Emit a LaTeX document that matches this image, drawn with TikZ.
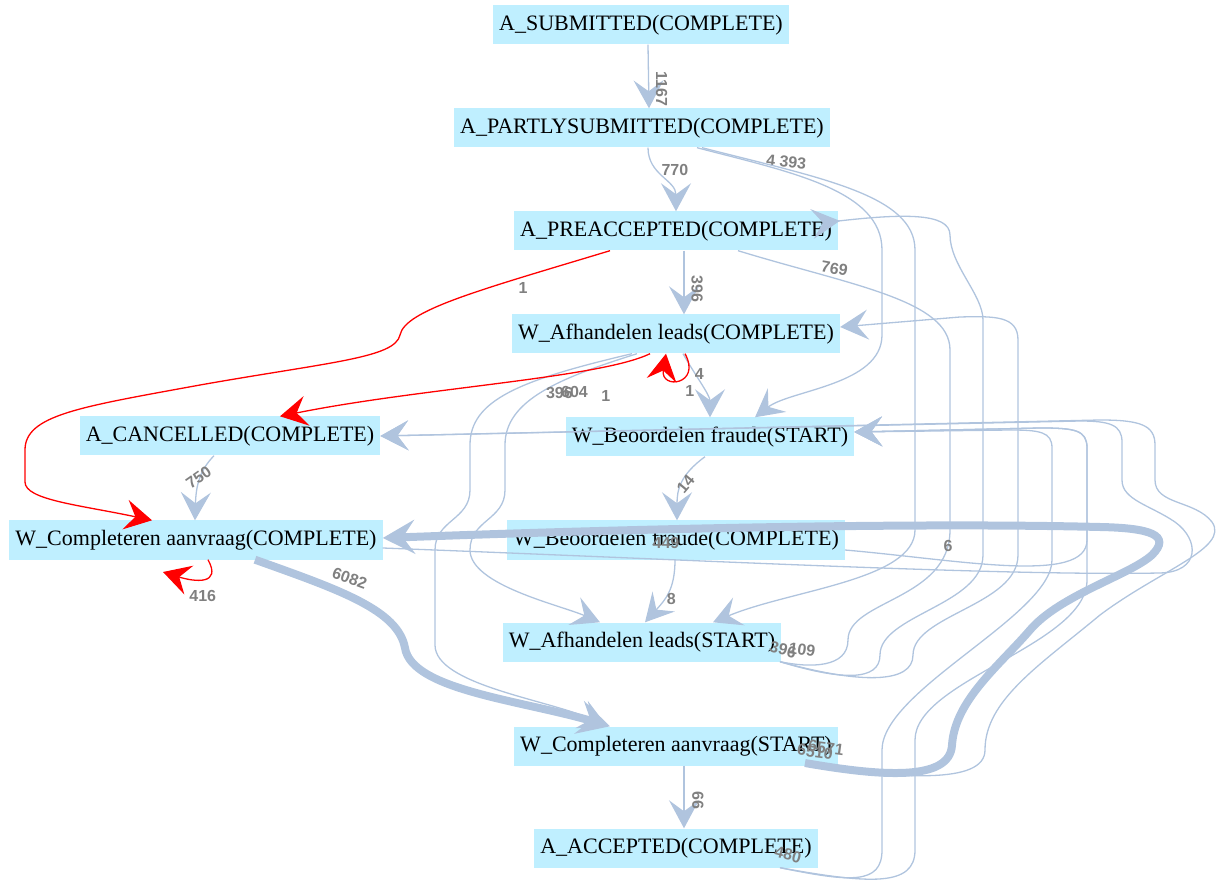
\documentclass[tikz,border=0pt]{standalone}
\usepackage{fontspec}
\setmainfont{Liberation Serif}
\newfontfamily\countfont{Liberation Sans}
\usetikzlibrary{arrows.meta}
\definecolor{ActFill}{HTML}{BFEFFF}
\definecolor{FlowLine}{HTML}{B0C4DE}
\definecolor{CountGray}{HTML}{808080}
\tikzset{
  act/.style={fill=ActFill,inner xsep=6pt,minimum height=39pt,font=\fontsize{22}{26}\selectfont},
  flow/.style={draw=FlowLine,line width=1.3pt,-{Stealth[length=28pt,width=30pt,inset=11pt]}},
  plain/.style={draw=FlowLine,line width=1.3pt},
  back/.style={draw=FlowLine,line width=1.3pt,-{Stealth[length=28pt,width=30pt,inset=11pt,reversed]}},
  heavy/.style={draw=FlowLine,line width=8pt,-{Stealth[length=32pt,width=34pt,inset=12pt]}},
  rework/.style={draw=red,line width=1.3pt,-{Stealth[length=27pt,width=30pt,inset=10pt]}},
  lbl/.style={font=\countfont\bfseries\fontsize{16}{16}\selectfont,text=CountGray,inner sep=1pt}
}

\begin{document}
\begin{tikzpicture}[x=1pt,y=-1pt]
  \useasboundingbox (0,0) rectangle (1219,882);
  % activities
  \node[act] (sub) at (641,25) {A\_SUBMITTED(COMPLETE)};
  \node[act] (partly) at (642,128) {A\_PARTLYSUBMITTED(COMPLETE)};
  \node[act] (preacc) at (676,231) {A\_PREACCEPTED(COMPLETE)};
  \node[act] (alc) at (676,334) {W\_Afhandelen leads(COMPLETE)};
  \node[act] (bfs) at (710,437) {W\_Beoordelen fraude(START)};
  \node[act] (canc) at (230,436) {A\_CANCELLED(COMPLETE)};
  \node[act] (cac) at (196,540) {W\_Completeren aanvraag(COMPLETE)};
  \node[act] (bfc) at (676,540) {W\_Beoordelen fraude(COMPLETE)};
  \node[act] (als) at (642,642) {W\_Afhandelen leads(START)};
  \node[act] (cas) at (676,746) {W\_Completeren aanvraag(START)};
  \node[act] (acc) at (676,848) {A\_ACCEPTED(COMPLETE)};
  \coordinate (cacloop) at (163,572);

  % main flow
  \draw[flow] ([xshift=7pt]sub.south) -- node[lbl,pos=.7,xshift=13pt,rotate=-90]{1167} ([xshift=7pt]partly.north);
  \draw[flow] ([xshift=6pt]partly.south) .. controls (648,175) and (676,180) .. node[lbl,pos=.35,right=4pt]{770} (preacc.north);
  \draw[flow] ([xshift=55pt]partly.south) .. controls (790,172) and (882,190) .. node[lbl,pos=.33,above=2pt,rotate=-6]{4 393} (882,250) -- (882,335) .. controls (882,385) and (790,390) .. ([xshift=45pt]bfs.north);
  \draw[flow] ([xshift=60pt]partly.south) .. controls (820,178) and (915,195) .. (915,250) -- (915,530) .. controls (915,580) and (790,590) .. ([xshift=71pt]als.north);
  \draw[flow] ([xshift=8pt]preacc.south) -- node[lbl,pos=.6,xshift=13pt,rotate=-90]{396} ([xshift=8pt]alc.north);
  \draw[plain] ([xshift=62pt]preacc.south) .. controls (850,285) and (950,300) .. node[lbl,pos=.3,above=2pt,rotate=-10]{769} (950,350) -- (950,530) .. controls (950,600) and (848,600) .. node[lbl,pos=.08]{6} (848,640) .. controls (848,668) and (810,668) .. ([xshift=138pt]als.south);
  \draw[flow] ([xshift=7pt]alc.south) .. controls (695,375) and (710,395) .. node[lbl,pos=.6,left=8pt]{1} (bfs.north);
  \draw[flow] ([xshift=-5pt]bfs.south) .. controls (680,475) and (677,490) .. node[lbl,pos=.5,xshift=4pt,rotate=50]{14} ([xshift=1pt]bfc.north);
  \draw[flow] ([xshift=-1pt]bfc.south) .. controls (675,590) and (665,600) .. node[lbl,pos=.6,xshift=7pt]{8} ([xshift=3pt]als.north);
  \draw[flow] ([xshift=8pt]cas.south) -- node[lbl,pos=.55,xshift=14pt,rotate=-90]{66} ([xshift=8pt]acc.north);
  \draw[flow] ([xshift=-16pt]canc.south) .. controls (200,470) and (196,485) .. node[lbl,pos=.45,xshift=-2pt,rotate=35]{750} ([xshift=-1pt]cac.north);

  % left loops from leads
  \draw[flow] ([xshift=-39pt]alc.south) .. controls (560,378) and (505,400) .. node[lbl,pos=.3,below=9pt]{604} (505,445) -- (505,490) .. controls (505,520) and (470,520) .. (470,550) .. controls (470,585) and (560,605) .. ([xshift=-42pt]als.north);
  \draw[flow] ([xshift=-44pt]alc.south) .. controls (520,380) and (470,400) .. node[lbl,pos=.25,below=13pt]{396} (470,445) -- (470,490) .. controls (470,520) and (435,520) .. (435,550) -- (435,645) .. controls (435,685) and (550,700) .. ([xshift=-69pt]cas.north);

  % right side back edges
  \draw[back] ([xshift=138pt]als.south) node[lbl,xshift=3pt,yshift=12pt,rotate=-15]{396} .. controls (840,680) and (880,682) .. (880,655) .. controls (880,615) and (983,605) .. (983,555) -- (983,320) .. controls (983,295) and (950,265) .. (950,235) .. controls (950,212) and (900,214) .. ([xshift=-26pt,yshift=7pt]preacc.east);
  \draw[flow] ([xshift=138pt]als.south) node[lbl,xshift=22pt,yshift=12pt,rotate=-8]{109} .. controls (860,684) and (913,684) .. (913,655) .. controls (913,615) and (1018,605) .. (1018,555) -- (1018,340) .. controls (1018,316) and (995,316) .. (960,317) -- ([yshift=7pt]alc.east);
  \draw[flow] ([xshift=104pt]acc.south) node[lbl,xshift=8pt,yshift=13pt,rotate=-15]{480} .. controls (850,882) and (882,885) .. (882,850) -- (882,750) .. controls (882,690) and (1052,615) .. (1052,560) -- (1052,448) .. controls (1052,432) and (1040,430) .. (1010,430) -- ([yshift=5pt]bfs.east);
  \draw[flow] ([xshift=104pt]acc.south) .. controls (870,884) and (915,887) .. (915,850) -- (915,740) .. controls (915,680) and (1087,645) .. (1087,580) -- (1087,448) .. controls (1087,430) and (1075,428) .. (1040,428) -- ([yshift=5pt]bfs.east);
  \draw[flow] ([yshift=-10pt]bfc.east) .. controls (960,560) and (1087,585) .. (1087,540) -- (1087,448) .. controls (1087,430) and (1075,428) .. (1040,428) -- ([yshift=5pt]bfs.east);
  \draw[flow] ([yshift=-8pt]cac.east) .. controls (700,560) and (1000,576) .. (1160,573) .. controls (1200,572) and (1200,540) .. (1175,522) .. controls (1150,505) and (1122,500) .. (1122,480) -- (1122,442) .. controls (1122,425) and (1110,421) .. (1080,421) -- (canc.east);
  \draw[flow] ([xshift=131pt]cas.south) .. controls (900,778) and (985,785) .. (985,750) .. controls (985,700) and (1040,665) .. (1100,615) .. controls (1160,570) and (1230,548) .. (1212,522) .. controls (1195,500) and (1155,505) .. (1155,480) -- (1155,445) .. controls (1155,425) and (1140,420) .. (1100,420) -- (canc.east);
  \node[lbl] (bfccount) at (666,543) {449};

  % heavy flows
  \draw[heavy] ([xshift=59pt]cac.south) .. controls (340,590) and (398,610) .. node[lbl,pos=.42,above=6pt,rotate=-20]{6082} (405,648) .. controls (412,690) and (520,700) .. ([xshift=-66pt]cas.north);
  \draw[heavy] ([xshift=-33pt,yshift=-17pt]cas.east) node[lbl,xshift=10pt,yshift=11pt,rotate=-8]{6510} node[lbl,xshift=21pt,yshift=15pt,rotate=-8]{6571} .. controls (880,776) and (950,782) .. (952,745) .. controls (955,700) and (1000,665) .. (1030,630) .. controls (1060,595) and (1130,575) .. (1152,555) .. controls (1172,535) and (1150,528) .. (1100,527) .. controls (900,522) and (600,530) .. ([yshift=2pt]cac.east);

  % rework (red)
  \draw[rework] ([xshift=-66pt]preacc.south) .. controls (480,290) and (405,310) .. node[lbl,pos=.25,below=4pt]{1} (400,335) .. controls (395,358) and (330,362) .. (200,385) .. controls (80,407) and (25,415) .. (25,450) -- (25,482) .. controls (25,500) and (80,505) .. ([xshift=-44pt]cac.north);
  \draw[rework] ([xshift=-26pt]alc.south) .. controls (600,378) and (420,388) .. node[lbl,pos=.2,below=22pt]{1} ([xshift=50pt]canc.north);
  \draw[rework] ([xshift=9pt]alc.south) .. controls (702,385) and (660,390) .. node[lbl,pos=.3,right=6pt]{4} ([xshift=-10pt]alc.south);
  \draw[rework] ([xshift=12pt]cac.south) .. controls (222,585) and (195,582) .. node[lbl,pos=.5,below=10pt]{416} (cacloop);
\end{tikzpicture}
\end{document}
